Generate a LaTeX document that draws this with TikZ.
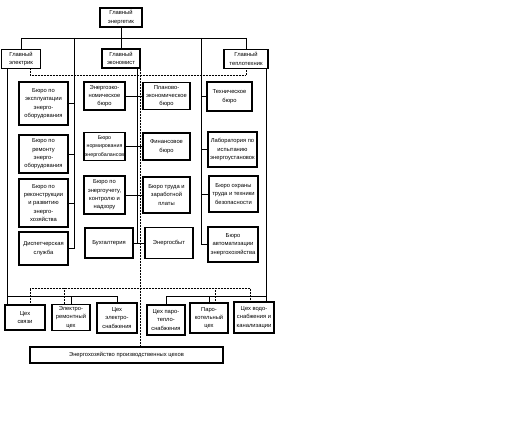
\documentclass[tikz,border=0pt]{standalone}
\usepackage{fontspec}
\setmainfont{Liberation Sans}
\usetikzlibrary{calc}

\begin{document}
\begin{tikzpicture}[
    x=1pt, y=-1pt,
    font=\fontsize{5.8}{8.3}\selectfont,
    head/.style={
        draw=black,
        line width=1.2pt,
        minimum height=19pt,
        inner sep=1pt,
        align=center,
        fill=white
    },
    bureau/.style={
        draw=black,
        line width=1.2pt,
        minimum width=49pt,
        inner sep=1pt,
        align=center,
        fill=white
    },
    shop/.style={
        draw=black,
        line width=1.2pt,
        minimum width=39pt,
        minimum height=28pt,
        inner sep=1pt,
        align=center,
        fill=white
    },
    link/.style={black, line width=0.8pt},
    func/.style={black, line width=0.5pt, densely dotted}
]
\useasboundingbox (0,0) rectangle (524,436);

% leaders
\node[head, minimum width=42pt] (chief) at (121,17.5) {Главный\\энергетик};
\node[head, minimum width=39pt] (elec) at (21,59) {Главный\\электрик};
\node[head, minimum width=38pt] (econ) at (121,58.5) {Главный\\экономист};
\node[head, minimum width=44pt] (heat) at (246,59) {Главный\\теплотехник};

% bus columns
\coordinate (topbus) at (0,38);
\coordinate (lline) at (74,0);
\coordinate (mline) at (137,0);
\coordinate (rline) at (201,0);
\coordinate (ecol) at (7,0);
\coordinate (hcol) at (266,0);
\coordinate (fl) at (30,0);
\coordinate (fc) at (140,0);
\coordinate (fbus) at (0,75);
\coordinate (lbus) at (0,296);
\coordinate (rbus) at (0,296);
\coordinate (sbus) at (0,288);

% left column
\node[bureau, minimum height=43pt] (expl) at (43.5,103.5) {Бюро по\\эксплуатации\\энерго-\\оборудования};
\node[bureau, minimum height=38pt] (repair) at (43.5,154) {Бюро по\\ремонту\\энерго-\\оборудования};
\node[bureau, minimum height=48pt] (recon) at (43.5,203) {Бюро по\\реконструкции\\и развитию\\энерго-\\хозяйства};
\node[bureau, minimum height=33pt] (disp) at (43.5,248.5) {Диспетчерская\\служба};

% economist, left
\node[bureau, minimum width=41pt, minimum height=28pt] (eneco) at (104.5,96) {Энергоэко-\\номическое\\бюро};
\node[bureau, minimum width=41pt, minimum height=28pt, inner xsep=0pt, font=\fontsize{5.3}{8.3}\selectfont] (norm) at (104.5,146.5) {Бюро\\нормирования\\энергобалансов};
\node[bureau, minimum width=41pt, minimum height=38pt] (meter) at (104.5,195) {Бюро по\\энергоучету,\\контролю и\\надзору};
\node[bureau, minimum width=48pt, minimum height=30pt] (acc) at (109,243) {Бухгалтерия};

% economist, right
\node[bureau, minimum width=47pt, minimum height=27pt] (plan) at (166.5,96) {Планово-\\экономическое\\бюро};
\node[bureau, minimum width=47pt, minimum height=27pt] (fin) at (166.5,146.5) {Финансовое\\бюро};
\node[bureau, minimum width=47pt, minimum height=36pt] (wage) at (166.5,195) {Бюро труда и\\заработной\\платы};
\node[bureau, minimum width=48pt, minimum height=31pt] (sale) at (169,243) {Энергосбыт};

% right column
\node[bureau, minimum width=45pt, minimum height=29pt] (tech) at (229.5,96.5) {Техническое\\бюро};
\node[bureau, minimum height=35pt] (lab) at (232.5,149.5) {Лаборатория по\\испытанию\\энергоустановок};
\node[bureau, minimum height=36pt] (safe) at (233.5,194) {Бюро охраны\\труда и техники\\безопасности};
\node[bureau, minimum width=50pt, minimum height=35pt] (auto) at (233,244.5) {Бюро\\автоматизации\\энергохозяйства};

% workshops
\node[shop, minimum width=40pt, minimum height=25pt] (comm) at (25,317.5) {Цех\\связи};
\node[shop, minimum width=38pt, minimum height=26pt] (erep) at (71,317.5) {Электро-\\ремонтный\\цех};
\node[shop, minimum width=40pt, minimum height=30pt] (esup) at (117,318) {Цех\\электро-\\снабжения};
\node[shop, minimum width=38pt, minimum height=30pt] (steam) at (166,320) {Цех паро-\\тепло-\\снабжения};
\node[shop, minimum width=38pt, minimum height=30pt] (boiler) at (209,318) {Паро-\\котельный\\цех};
\node[shop, minimum width=40pt, minimum height=31pt] (water) at (254,317.5) {Цех водо-\\снабжения и\\канализации};

\node[bureau, minimum width=193pt, minimum height=16pt] (plant) at (126.5,355) {Энергохозяйство производственных цехов};

% top links
\draw[link] (chief) -- (econ);
\draw[link] (elec.north |- topbus) -- (heat.north |- topbus);
\draw[link] (elec.north |- topbus) -- (elec.north);
\draw[link] (heat.north |- topbus) -- (heat.north);

% left bureaus
\draw[link] (lline |- topbus) |- (disp.east);
\draw[link] (expl.east) -- (expl.east -| lline);
\draw[link] (repair.east) -- (repair.east -| lline);
\draw[link] (recon.east) -- (recon.east -| lline);

% economist bureaus
\draw[link] (econ.south -| mline) -- (acc.east -| mline);
\draw[link] (eneco) -- (plan);
\draw[link] (norm) -- (fin);
\draw[link] (meter) -- (wage);
\draw[link] (acc) -- (sale);

% right bureaus
\draw[link] (rline |- topbus) |- (auto.west);
\draw[link] (tech.west) -- (tech.west -| rline);
\draw[link] (lab.west) -- (lab.west -| rline);
\draw[link] (safe.west) -- (safe.west -| rline);

% workshops of the electrician
\draw[link] (elec.south -| ecol) -- (comm.north -| ecol);
\draw[link] (ecol |- lbus) -- (esup.north |- lbus);
\draw[link] (erep.north) -- (erep.north |- lbus);
\draw[link] (esup.north) -- (esup.north |- lbus);

% workshops of the heat engineer
\draw[link] (heat.south -| hcol) -- (water.north -| hcol);
\draw[link] (steam.north |- rbus) -- (hcol |- rbus);
\draw[link] (steam.north) -- (steam.north |- rbus);
\draw[link] (boiler.north) -- (boiler.north |- rbus);

% functional links
\draw[func] (elec.south -| fl) -- (fl |- fbus) -- (heat.south |- fbus) -- (heat.south);
\draw[func] (econ.south -| fc) -- (plant.north -| fc);
\draw[func] ([xshift=5pt]comm.north) -- ([xshift=5pt]comm.north |- sbus) -- ([xshift=-4pt]water.north |- sbus) -- ([xshift=-4pt]water.north);
\draw[func] ([xshift=-7pt]erep.north) -- ([xshift=-7pt]erep.north |- sbus);
\draw[func] ([xshift=6pt]boiler.north) -- ([xshift=6pt]boiler.north |- sbus);

\end{tikzpicture}
\end{document}
